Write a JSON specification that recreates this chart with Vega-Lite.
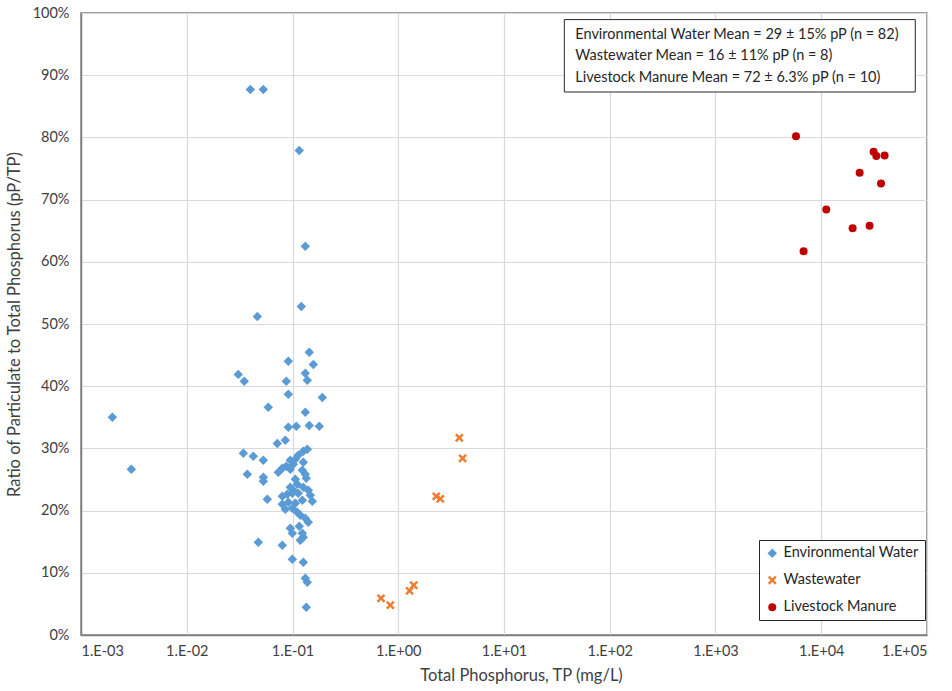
{
  "$schema": "https://vega.github.io/schema/vega-lite/v6.json",
  "width": 846,
  "height": 622,
  "autosize": "none",
  "padding": {"left": 81, "top": 13, "right": 25, "bottom": 56},
  "background": "white",
  "config": {
    "font": "Lato",
    "view": {"stroke": "#7f7f7f", "strokeWidth": 1.5},
    "axis": {"gridColor": "#d9d9d9", "gridWidth": 1.2, "domainColor": "#7f7f7f", "domainWidth": 1.5, "ticks": false, "labelColor": "#404040", "labelFontSize": 14.5, "titleColor": "#404040", "titleFontSize": 16.5, "titleFontWeight": "normal"}
  },
  "datasets": {
    "pts": [
      {"type": "Environmental Water", "tp": 0.00198, "ratio": 0.350},
      {"type": "Environmental Water", "tp": 0.00299, "ratio": 0.2664},
      {"type": "Environmental Water", "tp": 0.0399, "ratio": 0.877},
      {"type": "Environmental Water", "tp": 0.0530, "ratio": 0.877},
      {"type": "Environmental Water", "tp": 0.1159, "ratio": 0.779},
      {"type": "Environmental Water", "tp": 0.1321, "ratio": 0.625},
      {"type": "Environmental Water", "tp": 0.1211, "ratio": 0.528},
      {"type": "Environmental Water", "tp": 0.0465, "ratio": 0.512},
      {"type": "Environmental Water", "tp": 0.1441, "ratio": 0.4545},
      {"type": "Environmental Water", "tp": 0.0913, "ratio": 0.440},
      {"type": "Environmental Water", "tp": 0.1573, "ratio": 0.435},
      {"type": "Environmental Water", "tp": 0.0307, "ratio": 0.419},
      {"type": "Environmental Water", "tp": 0.1321, "ratio": 0.4207},
      {"type": "Environmental Water", "tp": 0.0350, "ratio": 0.408},
      {"type": "Environmental Water", "tp": 0.0874, "ratio": 0.408},
      {"type": "Environmental Water", "tp": 0.1380, "ratio": 0.4095},
      {"type": "Environmental Water", "tp": 0.0913, "ratio": 0.387},
      {"type": "Environmental Water", "tp": 0.1913, "ratio": 0.382},
      {"type": "Environmental Water", "tp": 0.0590, "ratio": 0.366},
      {"type": "Environmental Water", "tp": 0.1321, "ratio": 0.358},
      {"type": "Environmental Water", "tp": 0.0913, "ratio": 0.334},
      {"type": "Environmental Water", "tp": 0.1086, "ratio": 0.3356},
      {"type": "Environmental Water", "tp": 0.1441, "ratio": 0.337},
      {"type": "Environmental Water", "tp": 0.1792, "ratio": 0.3356},
      {"type": "Environmental Water", "tp": 0.0718, "ratio": 0.308},
      {"type": "Environmental Water", "tp": 0.0855, "ratio": 0.313},
      {"type": "Environmental Water", "tp": 0.0343, "ratio": 0.2921},
      {"type": "Environmental Water", "tp": 0.0426, "ratio": 0.2873},
      {"type": "Environmental Water", "tp": 0.0530, "ratio": 0.2809},
      {"type": "Environmental Water", "tp": 0.1380, "ratio": 0.2986},
      {"type": "Environmental Water", "tp": 0.1265, "ratio": 0.2953},
      {"type": "Environmental Water", "tp": 0.1134, "ratio": 0.2889},
      {"type": "Environmental Water", "tp": 0.0953, "ratio": 0.2809},
      {"type": "Environmental Water", "tp": 0.1063, "ratio": 0.2825},
      {"type": "Environmental Water", "tp": 0.0801, "ratio": 0.2680},
      {"type": "Environmental Water", "tp": 0.0874, "ratio": 0.2712},
      {"type": "Environmental Water", "tp": 0.0953, "ratio": 0.2664},
      {"type": "Environmental Water", "tp": 0.1018, "ratio": 0.2745},
      {"type": "Environmental Water", "tp": 0.1265, "ratio": 0.2777},
      {"type": "Environmental Water", "tp": 0.1238, "ratio": 0.2648},
      {"type": "Environmental Water", "tp": 0.1321, "ratio": 0.2584},
      {"type": "Environmental Water", "tp": 0.0374, "ratio": 0.2584},
      {"type": "Environmental Water", "tp": 0.0530, "ratio": 0.2535},
      {"type": "Environmental Water", "tp": 0.0530, "ratio": 0.2471},
      {"type": "Environmental Water", "tp": 0.0734, "ratio": 0.2616},
      {"type": "Environmental Water", "tp": 0.1063, "ratio": 0.2503},
      {"type": "Environmental Water", "tp": 0.1350, "ratio": 0.2519},
      {"type": "Environmental Water", "tp": 0.0953, "ratio": 0.2375},
      {"type": "Environmental Water", "tp": 0.1018, "ratio": 0.2326},
      {"type": "Environmental Water", "tp": 0.1265, "ratio": 0.2375},
      {"type": "Environmental Water", "tp": 0.1410, "ratio": 0.2326},
      {"type": "Environmental Water", "tp": 0.0578, "ratio": 0.2182},
      {"type": "Environmental Water", "tp": 0.0801, "ratio": 0.2230},
      {"type": "Environmental Water", "tp": 0.0893, "ratio": 0.2262},
      {"type": "Environmental Water", "tp": 0.0996, "ratio": 0.2278},
      {"type": "Environmental Water", "tp": 0.1134, "ratio": 0.2278},
      {"type": "Environmental Water", "tp": 0.1474, "ratio": 0.2246},
      {"type": "Environmental Water", "tp": 0.0801, "ratio": 0.2101},
      {"type": "Environmental Water", "tp": 0.0913, "ratio": 0.2133},
      {"type": "Environmental Water", "tp": 0.1063, "ratio": 0.2117},
      {"type": "Environmental Water", "tp": 0.1238, "ratio": 0.2166},
      {"type": "Environmental Water", "tp": 0.1539, "ratio": 0.2150},
      {"type": "Environmental Water", "tp": 0.0996, "ratio": 0.2037},
      {"type": "Environmental Water", "tp": 0.1110, "ratio": 0.1973},
      {"type": "Environmental Water", "tp": 0.1185, "ratio": 0.1924},
      {"type": "Environmental Water", "tp": 0.1321, "ratio": 0.1876},
      {"type": "Environmental Water", "tp": 0.1410, "ratio": 0.1812},
      {"type": "Environmental Water", "tp": 0.0953, "ratio": 0.1715},
      {"type": "Environmental Water", "tp": 0.0996, "ratio": 0.1635},
      {"type": "Environmental Water", "tp": 0.1238, "ratio": 0.1635},
      {"type": "Environmental Water", "tp": 0.1265, "ratio": 0.1571},
      {"type": "Environmental Water", "tp": 0.1185, "ratio": 0.1523},
      {"type": "Environmental Water", "tp": 0.0475, "ratio": 0.1490},
      {"type": "Environmental Water", "tp": 0.0801, "ratio": 0.1442},
      {"type": "Environmental Water", "tp": 0.0996, "ratio": 0.1217},
      {"type": "Environmental Water", "tp": 0.1265, "ratio": 0.1169},
      {"type": "Environmental Water", "tp": 0.1321, "ratio": 0.0912},
      {"type": "Environmental Water", "tp": 0.1380, "ratio": 0.0847},
      {"type": "Environmental Water", "tp": 0.1350, "ratio": 0.0445},
      {"type": "Environmental Water", "tp": 0.1110, "ratio": 0.2423},
      {"type": "Environmental Water", "tp": 0.1159, "ratio": 0.1747},
      {"type": "Environmental Water", "tp": 0.0855, "ratio": 0.2021},
      {"type": "Wastewater", "tp": 3.78, "ratio": 0.317},
      {"type": "Wastewater", "tp": 4.06, "ratio": 0.284},
      {"type": "Wastewater", "tp": 2.29, "ratio": 0.223},
      {"type": "Wastewater", "tp": 2.50, "ratio": 0.219},
      {"type": "Wastewater", "tp": 1.40, "ratio": 0.080},
      {"type": "Wastewater", "tp": 1.28, "ratio": 0.071},
      {"type": "Wastewater", "tp": 0.687, "ratio": 0.059},
      {"type": "Wastewater", "tp": 0.841, "ratio": 0.048},
      {"type": "Livestock Manure", "tp": 5770, "ratio": 0.802},
      {"type": "Livestock Manure", "tp": 31260, "ratio": 0.777},
      {"type": "Livestock Manure", "tp": 33190, "ratio": 0.770},
      {"type": "Livestock Manure", "tp": 39720, "ratio": 0.771},
      {"type": "Livestock Manure", "tp": 23070, "ratio": 0.743},
      {"type": "Livestock Manure", "tp": 36730, "ratio": 0.726},
      {"type": "Livestock Manure", "tp": 11160, "ratio": 0.684},
      {"type": "Livestock Manure", "tp": 28640, "ratio": 0.658},
      {"type": "Livestock Manure", "tp": 19790, "ratio": 0.654},
      {"type": "Livestock Manure", "tp": 6810, "ratio": 0.617}
    ]
  },
  "layer": [
    {
      "data": {"name": "pts"},
      "mark": {"type": "point", "filled": true, "opacity": 1, "strokeWidth": 0},
      "encoding": {
        "x": {
          "field": "tp", "type": "quantitative",
          "scale": {"type": "log", "domain": [0.001, 100000], "nice": false},
          "axis": {
            "values": [0.001, 0.01, 0.1, 1, 10, 100, 1000, 10000, 100000],
            "labelExpr": "'1.E' + (datum.value < 0.99 ? '-0' + round(-log(datum.value)/LN10) : '+0' + round(log(datum.value)/LN10))",
            "labelPadding": 9,
            "title": "Total Phosphorus, TP (mg/L)",
            "titleX": 440,
            "titlePadding": 10
          }
        },
        "y": {
          "field": "ratio", "type": "quantitative",
          "scale": {"domain": [0, 1], "nice": false},
          "axis": {
            "values": [0, 0.1, 0.2, 0.3, 0.4, 0.5, 0.6, 0.7, 0.8, 0.9, 1],
            "format": ".0%",
            "labelPadding": 12,
            "title": "Ratio of Particulate to Total Phosphorus (pP/TP)",
            "titlePadding": 10
          }
        },
        "color": {
          "field": "type", "type": "nominal",
          "scale": {"domain": ["Environmental Water", "Wastewater", "Livestock Manure"], "range": ["#5B9BD5", "#ED7D31", "#C00000"]},
          "legend": {
            "title": null, "orient": "none", "legendX": 678, "legendY": 527,
            "padding": 6, "fillColor": "white", "strokeColor": "#262626",
            "labelFontSize": 14.5, "labelColor": "#262626", "rowPadding": 12, "labelOffset": 4
          }
        },
        "shape": {
          "field": "type", "type": "nominal",
          "scale": {"domain": ["Environmental Water", "Wastewater", "Livestock Manure"], "range": ["diamond", "M-1,-0.6L-0.6,-1L0,-0.4L0.6,-1L1,-0.6L0.4,0L1,0.6L0.6,1L0,0.4L-0.6,1L-1,0.6L-0.4,0Z", "circle"]},
          "legend": {"title": null}
        },
        "size": {
          "field": "type", "type": "nominal",
          "scale": {"domain": ["Environmental Water", "Wastewater", "Livestock Manure"], "range": [90, 64, 72]},
          "legend": {"title": null}
        }
      }
    },
    {
      "data": {"values": [{}]},
      "mark": {"type": "rect", "fill": "white", "stroke": "#262626", "strokeWidth": 1},
      "encoding": {
        "x": {"datum": 37.2, "type": "quantitative"},
        "x2": {"datum": 77470},
        "y": {"datum": 0.9894, "type": "quantitative"},
        "y2": {"datum": 0.873}
      }
    },
    {
      "data": {"values": [{}]},
      "mark": {"type": "text", "align": "left", "baseline": "top", "fontSize": 14.5, "lineHeight": 21.4, "color": "#262626",
        "text": ["Environmental Water Mean = 29 ± 15% pP (n = 82)", "Wastewater Mean = 16 ± 11% pP (n = 8)", "Livestock Manure Mean = 72 ± 6.3% pP (n = 10)"]},
      "encoding": {
        "x": {"datum": 47.2, "type": "quantitative"},
        "y": {"datum": 0.976, "type": "quantitative"}
      }
    }
  ]
}
